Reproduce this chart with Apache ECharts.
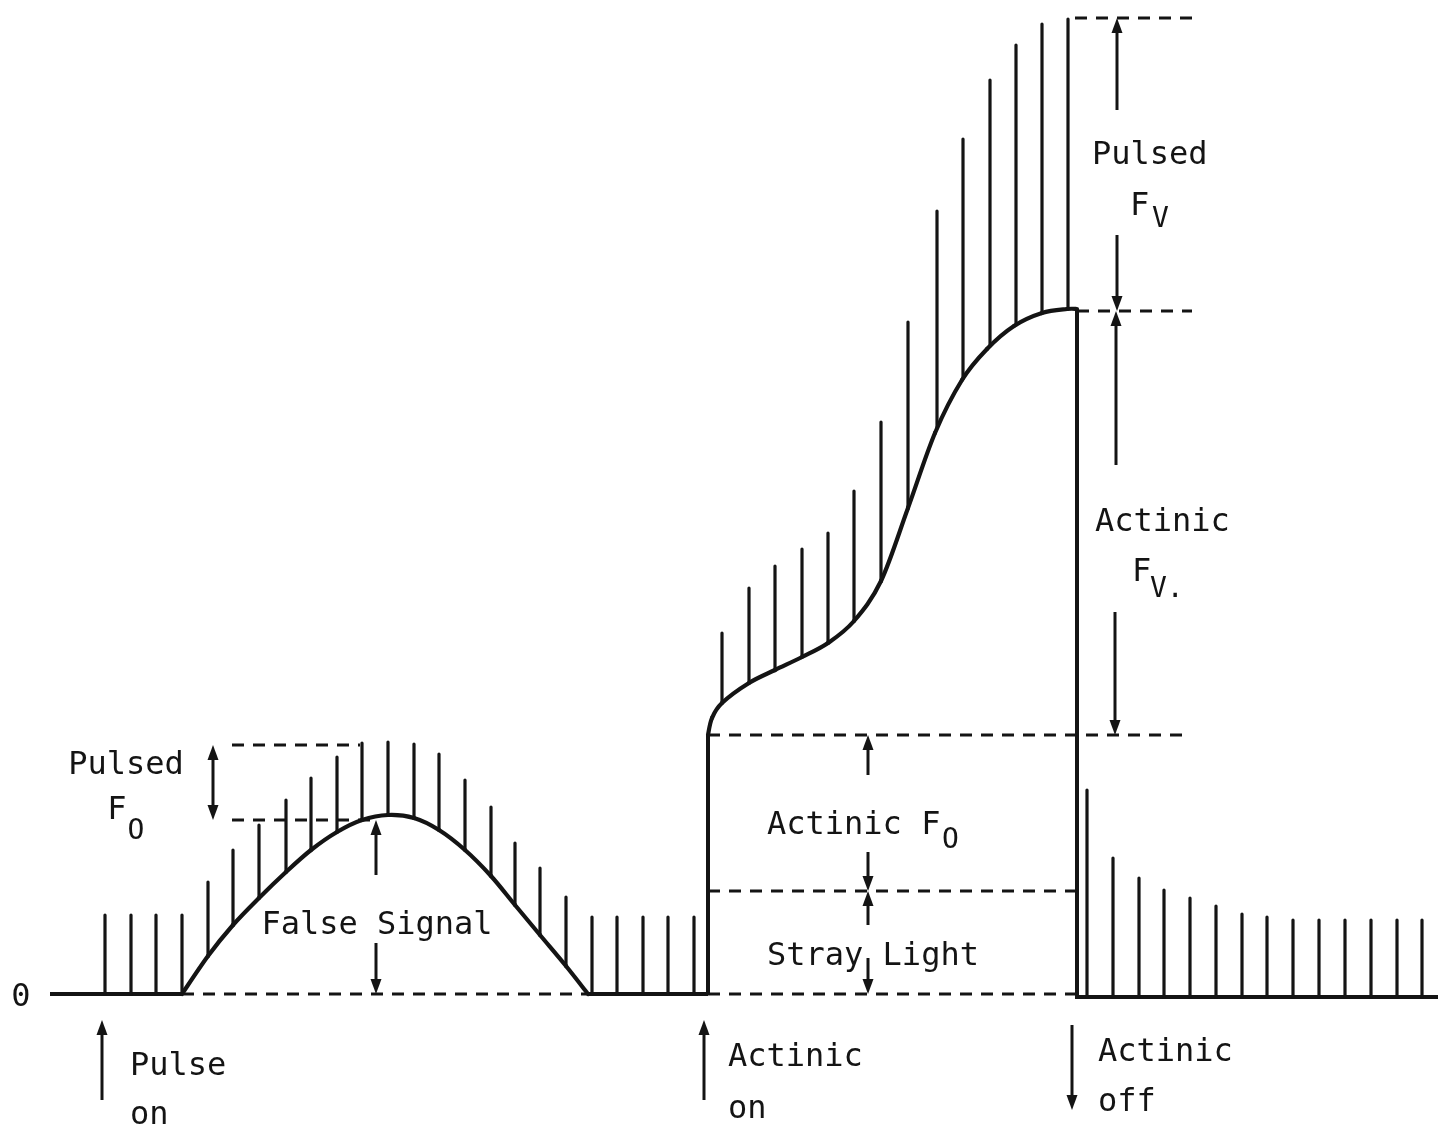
<!DOCTYPE html>
<html>
<head>
<meta charset="utf-8">
<script src="https://cdn.jsdelivr.net/npm/echarts@6/dist/echarts.min.js"></script>
<style>
html,body{margin:0;padding:0;background:#fff;}
#chart{width:1438px;height:1138px;}
</style>
</head>
<body>
<div id="chart"></div>
<script>
// ---------------- DATA (time units, relative fluorescence units) ----------------
// Dark baseline before the modulated light pulses
const darkPulses = [[5.5, 0, 7.9], [8.1, 0, 7.9], [10.6, 0, 7.9], [13.2, 0, 7.9]];
// False-signal bump (trace) and pulses riding on it: [time, base, top]
const bumpCurve = [[13.2, 0], [15.8, 3.8], [18.3, 6.9], [20.9, 9.6], [23.6, 12.2], [26.1, 14.4],
  [28.7, 16.2], [31.2, 17.4], [33.8, 17.9], [36.4, 17.6], [38.9, 16.4], [41.5, 14.4],
  [44.1, 11.8], [46.5, 8.9], [49.0, 5.9], [51.6, 2.8], [53.8, 0]];
const bumpPulses = [[15.8, 3.8, 11.2], [18.3, 6.9, 14.4], [20.9, 9.6, 16.9], [23.6, 12.2, 19.4],
  [26.1, 14.4, 21.6], [28.7, 16.2, 23.7], [31.2, 17.4, 25.1], [33.8, 17.9, 25.2],
  [36.4, 17.6, 25.0], [38.9, 16.4, 24.0], [41.5, 14.4, 21.4], [44.1, 11.8, 18.7],
  [46.5, 8.9, 15.1], [49.0, 5.9, 12.6], [51.6, 2.8, 9.7]];
const quietPulses = [[54.2, 0, 7.7], [56.7, 0, 7.7], [59.3, 0, 7.7], [61.8, 0, 7.7], [64.4, 0, 7.7]];
// Actinic light on: induction curve and pulses on it
const actinicCurve = [[65.8, 25.9], [66.2, 27.6], [67.2, 29.1], [69.9, 31.1], [72.5, 32.4],
  [75.2, 33.7], [77.8, 35.1], [80.4, 37.3], [83.1, 41.3], [85.8, 48.6], [88.5, 56.1],
  [91.2, 61.4], [93.7, 64.5], [96.4, 66.8], [99.2, 68.1], [101.7, 68.5], [102.7, 68.5]];
const actinicPulses = [[67.2, 29.1, 36.1], [69.9, 31.1, 40.6], [72.5, 32.4, 42.8], [75.2, 33.7, 44.5],
  [77.8, 35.1, 46.1], [80.4, 37.3, 50.3], [83.1, 41.3, 57.2], [85.8, 48.6, 67.2],
  [88.7, 56.6, 78.3], [91.3, 61.5, 85.5], [94.0, 64.8, 91.4], [96.6, 66.9, 94.9],
  [99.2, 68.1, 97.0], [101.8, 68.5, 97.5]];
// After actinic off: decaying pulses
const darkRecoveryPulses = [[103.7, -0.3, 20.4], [106.3, -0.3, 13.6], [108.9, -0.3, 11.6],
  [111.4, -0.3, 10.4], [114.0, -0.3, 9.6], [116.6, -0.3, 8.8], [119.2, -0.3, 8.0],
  [121.7, -0.3, 7.7], [124.3, -0.3, 7.4], [126.9, -0.3, 7.4], [129.5, -0.3, 7.4],
  [132.1, -0.3, 7.4], [134.7, -0.3, 7.4], [137.2, -0.3, 7.4]];
// Solid straight trace pieces: [t1, y1, t2, y2]
const traceSteps = [[0, 0, 13.2, 0], [53.8, 0, 65.8, 0], [65.8, 0, 65.8, 25.9],
  [102.7, 68.5, 102.7, -0.3], [102.5, -0.3, 138.8, -0.3]];
// Dashed reference levels: [t1, y1, t2, y2]
const guideLines = [[18.2, 24.9, 31.0, 24.9], [18.2, 17.4, 32.4, 17.4], [13.2, 0, 53.8, 0],
  [65.8, 25.9, 114.0, 25.9], [65.8, 10.3, 102.5, 10.3], [65.8, 0, 102.5, 0],
  [102.5, 97.6, 114.5, 97.6], [102.7, 68.3, 114.2, 68.3]];
// Arrows: [t, from, to] (head at "to")
const arrows = [[16.3, 21.1, 24.9], [16.3, 21.1, 17.4],
  [32.6, 11.9, 17.4], [32.6, 5.1, 0],
  [81.8, 21.9, 25.9], [81.8, 14.2, 10.3], [81.8, 6.9, 10.3], [81.8, 3.6, 0],
  [106.7, 88.4, 97.6], [106.7, 75.9, 68.3], [106.6, 52.9, 68.3], [106.5, 38.2, 25.9],
  [5.2, -10.6, -2.6], [65.4, -10.6, -2.6], [102.2, -3.1, -11.6]];
// Text annotations
const labelText = ['0', 'Pulsed', 'F', 'O', 'False Signal', 'Actinic F', 'O', 'Stray Light',
  'Pulsed', 'F', 'V', 'Actinic', 'F', 'V.', 'Pulse', 'on', 'Actinic', 'on', 'Actinic', 'off'];
const labelPos = [[-2.9, -0.4], [7.6, 22.8], [6.7, 18.3], [8.6, 16.2], [32.7, 6.8], [71.7, 16.8],
  [89.2, 15.3], [71.7, 3.7], [104.2, 83.8], [108.0, 78.7], [110.2, 77.4], [104.5, 47.1],
  [108.2, 42.1], [110.0, 40.4], [8.0, -7.3], [8.0, -12.2], [67.8, -6.4], [67.8, -11.6],
  [104.8, -5.9], [104.8, -10.9]];
const labelAlign = ['center', 'center', 'center', 'center', 'center', 'left', 'left', 'left',
  'left', 'left', 'left', 'left', 'left', 'left', 'left', 'left', 'left', 'left', 'left', 'left'];
const labelSub = [false, false, false, true, false, false, true, false,
  false, false, true, false, false, true, false, false, false, false, false, false];

// ---------------- RENDERING ----------------
const INK = '#141414';
const FONT = '"DejaVu Sans Mono", "Liberation Mono", monospace';

function pulseSeries(data) {
  return {
    type: 'custom', data: data, encode: { x: 0, y: [1, 2] }, silent: true,
    renderItem: function (params, api) {
      const a = api.coord([api.value(0), api.value(1)]);
      const b = api.coord([api.value(0), api.value(2)]);
      return { type: 'line', shape: { x1: a[0], y1: a[1], x2: b[0], y2: b[1] },
        style: { stroke: INK, lineWidth: 3.2, lineCap: 'round' } };
    }
  };
}
function segmentSeries(data, dashed) {
  return {
    type: 'custom', data: data, encode: { x: [0, 2], y: [1, 3] }, silent: true,
    renderItem: function (params, api) {
      const a = api.coord([api.value(0), api.value(1)]);
      const b = api.coord([api.value(2), api.value(3)]);
      return { type: 'line', shape: { x1: a[0], y1: a[1], x2: b[0], y2: b[1] },
        style: dashed ? { stroke: INK, lineWidth: 3, lineDash: [12, 9] }
                      : { stroke: INK, lineWidth: 4, lineCap: 'butt' } };
    }
  };
}
// Smooth trace through the read points (Catmull-Rom, in screen space via the axes)
function curveSeries(points) {
  return {
    type: 'custom', data: points, encode: { x: 0, y: 1 }, silent: true,
    renderItem: function (params, api) {
      const i = params.dataIndex;
      const n = points.length;
      if (i >= n - 1) return null;
      const P = function (k) {
        k = Math.max(0, Math.min(n - 1, k));
        return api.coord(points[k]);
      };
      const p0 = P(i - 1), p1 = P(i), p2 = P(i + 1), p3 = P(i + 2);
      const t = 1 / 6;
      return { type: 'bezierCurve',
        shape: { x1: p1[0], y1: p1[1], x2: p2[0], y2: p2[1],
          cpx1: p1[0] + (p2[0] - p0[0]) * t, cpy1: p1[1] + (p2[1] - p0[1]) * t,
          cpx2: p2[0] - (p3[0] - p1[0]) * t, cpy2: p2[1] - (p3[1] - p1[1]) * t },
        style: { stroke: INK, lineWidth: 4.2, fill: null, lineCap: 'round' } };
    }
  };
}

const chart = echarts.init(document.getElementById('chart'), null, { renderer: 'canvas' });
chart.setOption({
  animation: false,
  backgroundColor: '#ffffff',
  grid: { left: 0, right: 0, top: 0, bottom: 0 },
  xAxis: { type: 'value', min: -5, max: 138.8, show: false },
  yAxis: { type: 'value', min: -14.4, max: 99.4, show: false },
  series: [
    segmentSeries(traceSteps, false),
    segmentSeries(guideLines, true),
    curveSeries(bumpCurve),
    curveSeries(actinicCurve),
    pulseSeries(darkPulses),
    pulseSeries(bumpPulses),
    pulseSeries(quietPulses),
    pulseSeries(actinicPulses),
    pulseSeries(darkRecoveryPulses),
    {
      type: 'custom', data: arrows, encode: { x: 0, y: [1, 2] }, silent: true,
      renderItem: function (params, api) {
        const a = api.coord([api.value(0), api.value(1)]);
        const b = api.coord([api.value(0), api.value(2)]);
        const dir = b[1] > a[1] ? 1 : -1; // screen direction of head
        const L = 15, W = 5.5;
        return { type: 'group', children: [
          { type: 'line', shape: { x1: a[0], y1: a[1], x2: b[0], y2: b[1] - dir * L * 0.6 },
            style: { stroke: INK, lineWidth: 3 } },
          { type: 'polygon', shape: { points: [[b[0], b[1]], [b[0] - W, b[1] - dir * L], [b[0] + W, b[1] - dir * L]] },
            style: { fill: INK } }
        ] };
      }
    },
    {
      type: 'custom', data: labelPos, encode: { x: 0, y: 1 }, silent: true,
      renderItem: function (params, api) {
        const i = params.dataIndex;
        const p = api.coord([api.value(0), api.value(1)]);
        const size = labelSub[i] ? 28 : 32;
        return { type: 'text', x: p[0], y: p[1],
          style: { text: labelText[i], font: size + 'px ' + FONT, fill: INK,
            align: labelAlign[i], verticalAlign: 'middle' } };
      }
    }
  ]
});
</script>
</body>
</html>
